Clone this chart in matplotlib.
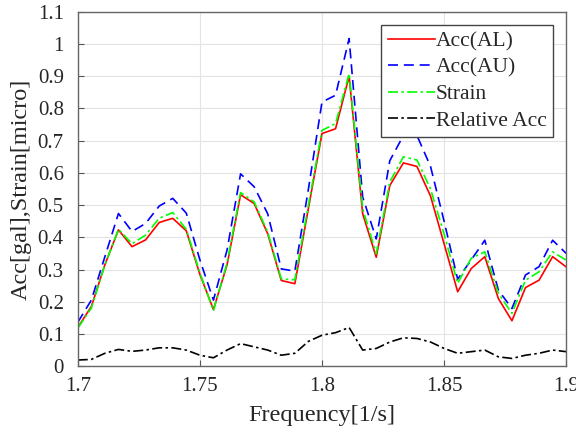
import numpy as np
import matplotlib
matplotlib.use("Agg")
import matplotlib.pyplot as plt

# frequency axis: 1/180 Hz steps between 1.7 and 1.9
freq = 1.7 + np.arange(37) / 180.0

acc_al = [0.12, 0.185, 0.315, 0.423, 0.371, 0.392, 0.446, 0.459, 0.42, 0.285,
          0.176, 0.314, 0.532, 0.505, 0.411, 0.266, 0.256, 0.49, 0.722, 0.737,
          0.9, 0.473, 0.338, 0.561, 0.631, 0.62, 0.528, 0.38, 0.231, 0.303,
          0.34, 0.21, 0.141, 0.244, 0.267, 0.34, 0.308]
acc_au = [0.136, 0.205, 0.34, 0.474, 0.418, 0.443, 0.497, 0.521, 0.475, 0.33,
          0.205, 0.36, 0.597, 0.557, 0.473, 0.302, 0.295, 0.55, 0.82, 0.841,
          1.017, 0.525, 0.395, 0.638, 0.716, 0.716, 0.62, 0.45, 0.27, 0.33,
          0.391, 0.236, 0.179, 0.283, 0.309, 0.391, 0.35]
strain = [0.118, 0.18, 0.315, 0.425, 0.38, 0.407, 0.459, 0.477, 0.425, 0.29,
          0.172, 0.32, 0.539, 0.51, 0.416, 0.271, 0.268, 0.5, 0.732, 0.753,
          0.908, 0.489, 0.349, 0.572, 0.65, 0.64, 0.55, 0.41, 0.257, 0.335,
          0.355, 0.226, 0.164, 0.267, 0.293, 0.355, 0.329]
rel_acc = [0.019, 0.021, 0.04, 0.052, 0.046, 0.05, 0.057, 0.057, 0.05, 0.034,
           0.026, 0.05, 0.07, 0.06, 0.05, 0.034, 0.04, 0.077, 0.096, 0.104,
           0.12, 0.05, 0.055, 0.075, 0.088, 0.086, 0.075, 0.055, 0.04, 0.045,
           0.05, 0.029, 0.024, 0.034, 0.04, 0.05, 0.045]

xticks = [1.7, 1.75, 1.8, 1.85, 1.9]
xticklabels = ["1.7", "1.75", "1.8", "1.85", "1.9"]
yticks = np.round(np.arange(0, 1.11, 0.1), 1)
yticklabels = ["0", "0.1", "0.2", "0.3", "0.4", "0.5", "0.6", "0.7", "0.8", "0.9", "1", "1.1"]

plt.rcParams["font.family"] = ["Liberation Serif", "DejaVu Serif"]

fig = plt.figure(figsize=(5.76, 4.38), dpi=100)
ax = fig.add_axes([0.135, 0.164, 0.848, 0.809])

ax.plot(freq, acc_al, color="#ff0000", lw=1.2, ls="-", label="Acc(AL)")
ax.plot(freq, acc_au, color="#0000ff", lw=1.2, ls=(0, (6, 3.5)), label="Acc(AU)")
ax.plot(freq, strain, color="#00ff00", lw=1.2, ls=(0, (6, 2, 1.5, 2)), label="Strain")
ax.plot(freq, rel_acc, color="#000000", lw=1.2, ls=(0, (6, 2, 1.5, 2)), label="Relative Acc")

ax.set_xlim(1.7, 1.9)
ax.set_ylim(0, 1.1)
ax.set_xticks(xticks)
ax.set_xticklabels(xticklabels)
ax.set_yticks(yticks)
ax.set_yticklabels(yticklabels)
ax.tick_params(direction="in", length=4, width=0.8, labelsize=15,
               colors="#555555", labelcolor="#262626")
ax.tick_params(axis="y", pad=10)
ax.tick_params(axis="x", pad=8)
ax.grid(True, color="#e3e3e3", lw=0.8)
ax.set_axisbelow(True)
for sp in ax.spines.values():
    sp.set_color("#666666")
    sp.set_linewidth(1.0)

ax.set_xlabel("Frequency[1/s]", fontsize=17.5, color="#262626", labelpad=6)
ax.set_ylabel("Acc[gal],Strain[micro]", fontsize=17.5, color="#262626", labelpad=4)

leg = ax.legend(loc="upper right", fontsize=15.5, handlelength=2.2, handletextpad=0.05,
                borderpad=0.3, labelspacing=0.3, borderaxespad=0.6,
                fancybox=False, framealpha=1, edgecolor="#444444")
leg.get_frame().set_linewidth(1.0)
for t in leg.get_texts():
    t.set_color("#262626")

fig.savefig("out.png", dpi=100)
